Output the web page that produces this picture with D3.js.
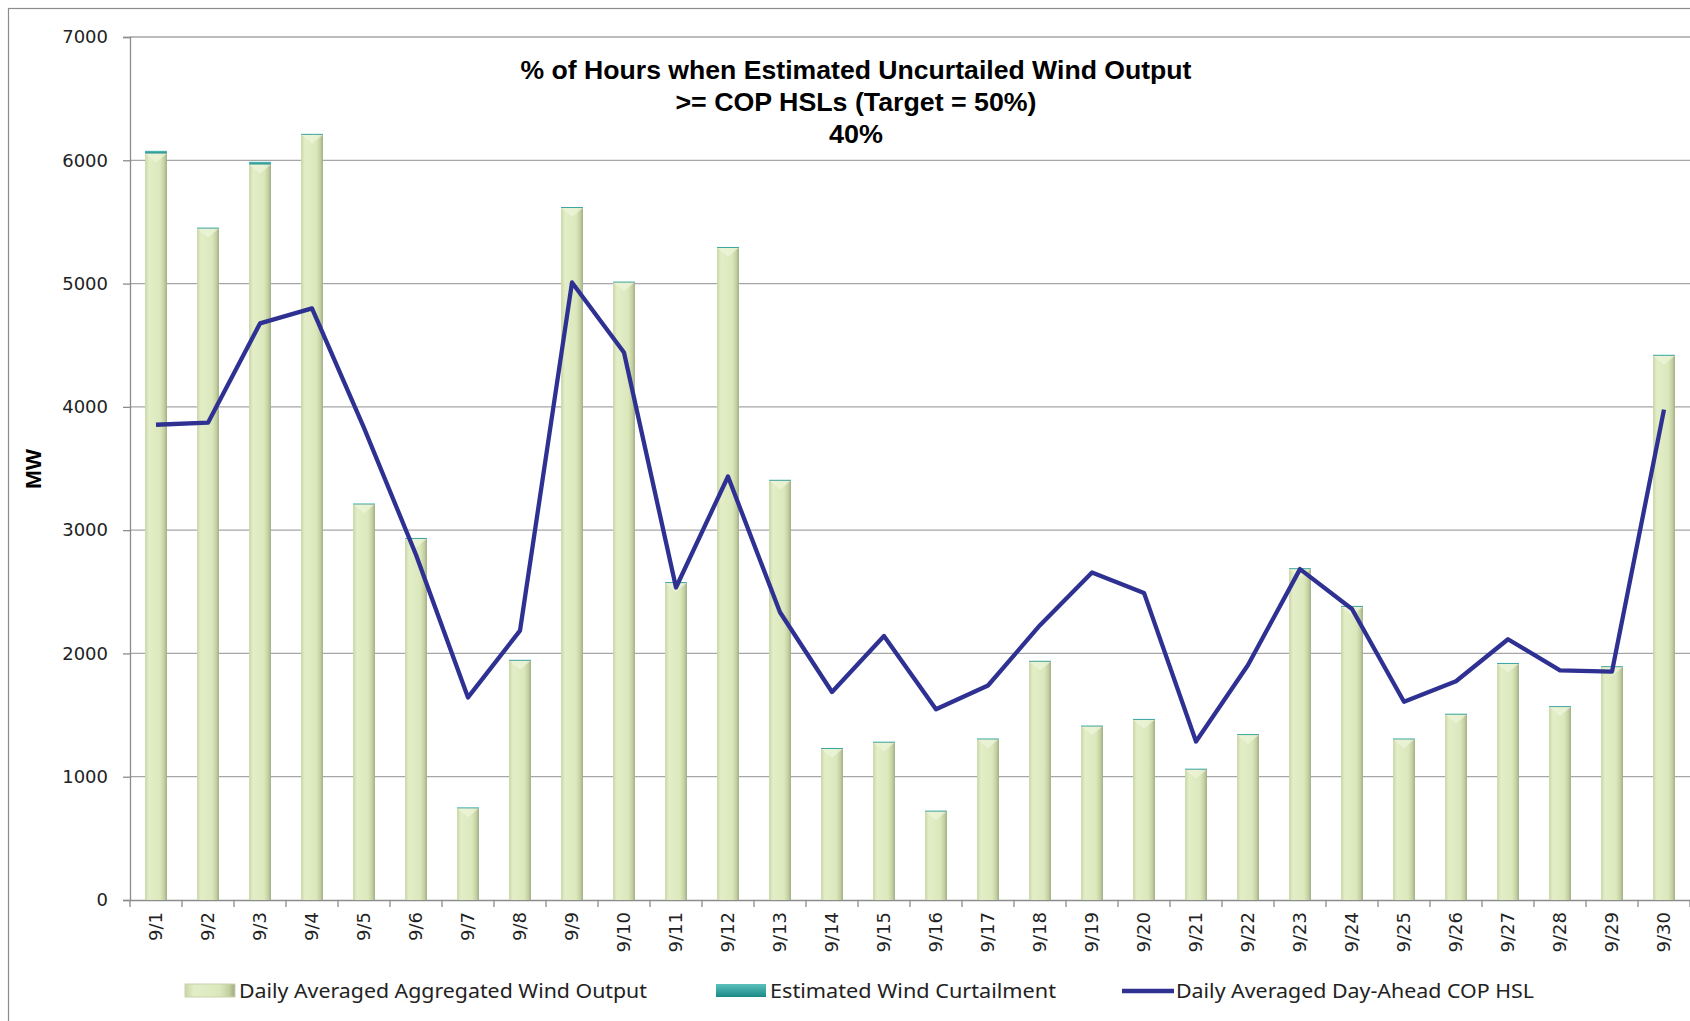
<!DOCTYPE html>
<html>
<head>
<meta charset="utf-8">
<script src="https://cdn.jsdelivr.net/npm/d3@7"></script>
<style>
  body { margin: 0; background: #fff; }
  svg { display: block; }
</style>
</head>
<body>
<div class="container"></div>
<script>
// daily values, MW
const days = ["9/1","9/2","9/3","9/4","9/5","9/6","9/7","9/8","9/9","9/10",
  "9/11","9/12","9/13","9/14","9/15","9/16","9/17","9/18","9/19","9/20",
  "9/21","9/22","9/23","9/24","9/25","9/26","9/27","9/28","9/29","9/30"];
const windOutput = [6055, 5447, 5966, 6207, 3210, 2930, 745, 1942, 5613, 5010,
  2572, 5290, 3402, 1226, 1278, 720, 1304, 1934, 1409, 1462,
  1059, 1339, 2685, 2379, 1304, 1505, 1916, 1566, 1890, 4415];
const curtailment = [22, 8, 22, 8, 7, 7, 7, 7, 8, 7,
  7, 7, 7, 7, 7, 6, 7, 7, 7, 7,
  7, 7, 7, 7, 7, 7, 7, 7, 7, 8];
const copHsl = [3855, 3872, 4677, 4799, 3830, 2800, 1643, 2185, 5009, 4441,
  2535, 3435, 2334, 1687, 2142, 1547, 1740, 2229, 2657, 2491,
  1285, 1906, 2684, 2360, 1608, 1774, 2115, 1862, 1853, 3977];
const yTicks = [0, 1000, 2000, 3000, 4000, 5000, 6000, 7000];
const titleLines = ["% of Hours when Estimated Uncurtailed Wind Output",
  ">= COP HSLs (Target = 50%)", "40%"];
const legendNames = ["Daily Averaged Aggregated Wind Output",
  "Estimated Wind Curtailment", "Daily Averaged Day-Ahead COP HSL"];

const width = 1690;
const height = 1021;
const plot = {left: 130, right: 1690, top: 37, bottom: 900};

const svg = d3.select("div.container")
    .append("svg")
    .attr("width", width)
    .attr("height", height);

const defs = svg.append("defs");
const grad = defs.append("linearGradient").attr("id", "barGrad")
    .attr("x1", "0").attr("x2", "1").attr("y1", "0").attr("y2", "0");
grad.append("stop").attr("offset", "0").attr("stop-color", "#c9d6a6");
grad.append("stop").attr("offset", "0.18").attr("stop-color", "#e3eec8");
grad.append("stop").attr("offset", "0.7").attr("stop-color", "#dbe7bb");
grad.append("stop").attr("offset", "0.88").attr("stop-color", "#c3d0a0");
grad.append("stop").attr("offset", "1").attr("stop-color", "#9ea985");

const tealGrad = defs.append("linearGradient").attr("id", "tealGrad")
    .attr("x1", "0").attr("x2", "0").attr("y1", "0").attr("y2", "1");
tealGrad.append("stop").attr("offset", "0").attr("stop-color", "#5cc0bb");
tealGrad.append("stop").attr("offset", "1").attr("stop-color", "#1b8a87");

// outer frame
svg.append("rect")
    .attr("x", 8.5).attr("y", 8.5)
    .attr("width", 1720).attr("height", 1040)
    .attr("fill", "none").attr("stroke", "#8c8c8c").attr("stroke-width", 1.2);

const x = d3.scaleBand()
    .domain(days)
    .range([plot.left, plot.right])
    .paddingInner(0.58)
    .paddingOuter(0.29);

const y = d3.scaleLinear()
    .domain([0, 7000])
    .range([plot.bottom, plot.top]);

// gridlines
svg.append("g")
    .selectAll("line")
    .data(yTicks.filter(d => d > 0))
    .enter()
    .append("line")
    .attr("x1", plot.left).attr("x2", plot.right)
    .attr("y1", d => y(d)).attr("y2", d => y(d))
    .attr("stroke", "#a6a6a6").attr("stroke-width", 1.3);

// y axis
const yAxis = svg.append("g")
    .attr("transform", `translate(${plot.left},0)`)
    .call(d3.axisLeft(y).tickValues(yTicks).tickSize(7).tickPadding(15).tickFormat(d3.format("d")));
yAxis.select(".domain").attr("stroke", "#8c8c8c").attr("stroke-width", 1.3);
yAxis.selectAll(".tick line").attr("stroke", "#8c8c8c").attr("stroke-width", 1.3);
yAxis.selectAll(".tick text")
    .attr("font-family", "DejaVu Sans").attr("font-size", 18).attr("fill", "#222");

// x axis
const xAxis = svg.append("g")
    .attr("transform", `translate(0,${plot.bottom})`)
    .call(d3.axisBottom(x).tickSize(0).tickPadding(0));
xAxis.select(".domain").attr("stroke", "#8c8c8c").attr("stroke-width", 1.3);
xAxis.selectAll(".tick text")
    .attr("font-family", "DejaVu Sans").attr("font-size", 18).attr("fill", "#222")
    .attr("transform", "translate(0,12) rotate(-90)")
    .attr("text-anchor", "end")
    .attr("dy", "0.35em")
    .attr("y", 0).attr("x", 0);
// separators between categories
svg.append("g")
    .selectAll("line")
    .data(d3.range(days.length + 1))
    .enter()
    .append("line")
    .attr("x1", i => plot.left + i * x.step()).attr("x2", i => plot.left + i * x.step())
    .attr("y1", plot.bottom).attr("y2", plot.bottom + 7)
    .attr("stroke", "#8c8c8c").attr("stroke-width", 1.3);

// bars
const bars = svg.append("g");
bars.selectAll("rect.out")
    .data(days)
    .enter()
    .append("rect")
    .attr("class", "out")
    .attr("x", (d, i) => x(d))
    .attr("width", x.bandwidth())
    .attr("y", (d, i) => y(windOutput[i]))
    .attr("height", (d, i) => y(0) - y(windOutput[i]))
    .attr("fill", "url(#barGrad)");
// bevel highlight at top of bars
bars.selectAll("path.bevel")
    .data(days)
    .enter()
    .append("path")
    .attr("class", "bevel")
    .attr("d", (d, i) => {
        const x0 = x(d), w = x.bandwidth(), t = y(windOutput[i]);
        return `M${x0},${t} L${x0 + w},${t} L${x0 + w / 2},${t + 9} Z`;
    })
    .attr("fill", "#eef5da").attr("opacity", 0.7);
bars.selectAll("rect.curt")
    .data(days)
    .enter()
    .append("rect")
    .attr("class", "curt")
    .attr("x", (d, i) => x(d))
    .attr("width", x.bandwidth())
    .attr("y", (d, i) => y(windOutput[i] + curtailment[i]))
    .attr("height", (d, i) => Math.max(1, y(windOutput[i]) - y(windOutput[i] + curtailment[i])))
    .attr("fill", "url(#tealGrad)");

// HSL line
const line = d3.line()
    .x((d, i) => x(days[i]) + x.bandwidth() / 2)
    .y(d => y(d));
svg.append("path")
    .datum(copHsl)
    .attr("d", line)
    .attr("fill", "none")
    .attr("stroke", "#2e3192")
    .attr("stroke-width", 4.3)
    .attr("stroke-linejoin", "round");

// title (narrow bold, squeezed to the original widths)
const titleWidths = [671, 361, 54];
svg.append("g")
    .selectAll("text")
    .data(titleLines)
    .enter()
    .append("text")
    .attr("x", 856)
    .attr("y", (d, i) => 79 + i * 32)
    .attr("text-anchor", "middle")
    .attr("font-family", "Liberation Sans, Arial, sans-serif")
    .attr("font-weight", "bold")
    .attr("font-size", 25)
    .attr("fill", "#000")
    .attr("textLength", (d, i) => titleWidths[i])
    .attr("lengthAdjust", "spacingAndGlyphs")
    .text(d => d);

// y label
svg.append("text")
    .attr("transform", "translate(41,469) rotate(-90)")
    .attr("text-anchor", "middle")
    .attr("font-family", "Liberation Sans, Arial, sans-serif")
    .attr("font-weight", "bold")
    .attr("font-size", 22)
    .attr("textLength", 40)
    .attr("lengthAdjust", "spacingAndGlyphs")
    .text("MW");

// legend
const legendX = [185, 716, 1122];
const legendWidths = [408, 286, 358];
const lg = svg.append("g");
lg.append("rect").attr("x", legendX[0]).attr("y", 984).attr("width", 50).attr("height", 13)
    .attr("fill", "url(#barGrad)").attr("stroke", "#c8d3ad");
lg.append("rect").attr("x", legendX[1]).attr("y", 984).attr("width", 50).attr("height", 13)
    .attr("fill", "url(#tealGrad)");
lg.append("line").attr("x1", legendX[2]).attr("x2", legendX[2] + 52)
    .attr("y1", 991).attr("y2", 991)
    .attr("stroke", "#2e3192").attr("stroke-width", 4.3);
lg.selectAll("text")
    .data(legendNames)
    .enter()
    .append("text")
    .attr("x", (d, i) => legendX[i] + 54)
    .attr("y", 998)
    .attr("font-family", "Noto Sans, DejaVu Sans")
    .attr("font-size", 19)
    .attr("fill", "#222")
    .attr("textLength", (d, i) => legendWidths[i])
    .attr("lengthAdjust", "spacingAndGlyphs")
    .text(d => d);
</script>
</body>
</html>
